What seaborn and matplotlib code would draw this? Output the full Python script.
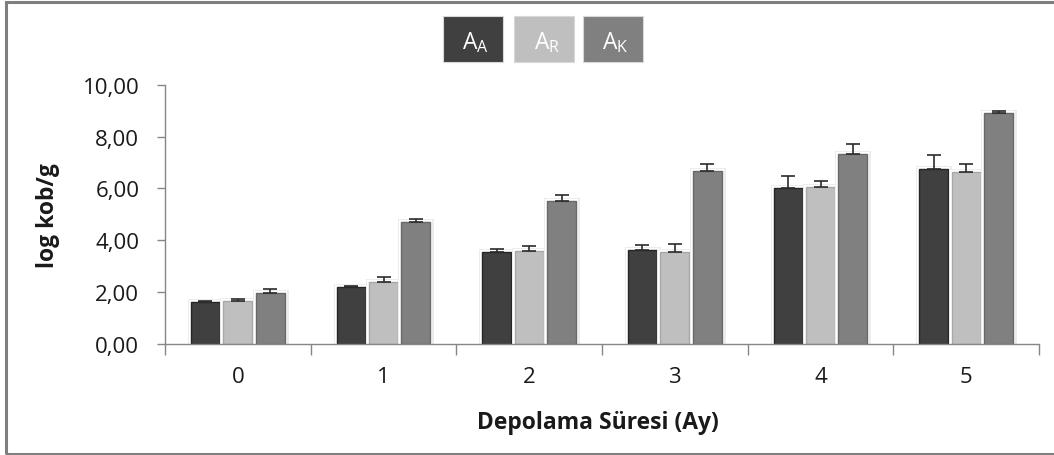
import numpy as np
import pandas as pd
import matplotlib
matplotlib.use("Agg")
import matplotlib.pyplot as plt
import matplotlib.patheffects as pe
from matplotlib.patches import Rectangle
from matplotlib.ticker import FixedLocator, FuncFormatter
import seaborn as sns

# Storage time (months) and mean log counts for each group
months = ["0", "1", "2", "3", "4", "5"]
groups = ["A_A", "A_R", "A_K"]
group_labels = [r"A$_A$", r"A$_R$", r"A$_K$"]
mean_AA = [1.61, 2.20, 3.54, 3.64, 6.00, 6.76]
mean_AR = [1.65, 2.38, 3.60, 3.54, 6.07, 6.63]
mean_AK = [1.96, 4.69, 5.50, 6.67, 7.33, 8.90]
sd_AA = [0.04, 0.05, 0.12, 0.17, 0.49, 0.51]
sd_AR = [0.08, 0.22, 0.17, 0.33, 0.23, 0.33]
sd_AK = [0.16, 0.13, 0.23, 0.26, 0.37, 0.09]

colors = ["#404040", "#bfbfbf", "#808080"]
edge_colors = ["#262626", "#a8a8a8", "#686868"]

means = [mean_AA, mean_AR, mean_AK]
sds = [sd_AA, sd_AR, sd_AK]
df = pd.DataFrame({
    "month": np.repeat([months], 3, axis=0).ravel(),
    "group": np.repeat(groups, len(months)),
    "value": np.concatenate(means),
})

sns.set_theme(style="white")
plt.rcParams["font.family"] = ["Open Sans", "DejaVu Sans"]
plt.rcParams["mathtext.default"] = "regular"

W, H = 1054, 456
fig = plt.figure(figsize=(W / 100, H / 100), dpi=100)
ax = fig.add_axes([165 / W, 1 - 345 / H, 874 / W, 259.3 / H])

sns.barplot(data=df, x="month", y="value", hue="group", order=months,
            hue_order=groups, palette=colors, width=0.666, gap=0.1,
            errorbar=None, legend=False, ax=ax, saturation=1)

halo = [pe.Stroke(linewidth=5, foreground="#ececec"),
        pe.Stroke(linewidth=3, foreground="white"),
        pe.Normal()]
for cont, ec, sd in zip(ax.containers, edge_colors, sds):
    xs, ys = [], []
    for p in cont.patches:
        p.set_edgecolor(ec)
        p.set_linewidth(1.0)
        p.set_path_effects(halo)
        xs.append(p.get_x() + p.get_width() / 2)
        ys.append(p.get_height())
    ax.errorbar(xs, ys, yerr=[np.zeros(len(sd)), sd], fmt="none",
                ecolor="#2b2b2b", elinewidth=1.2, capsize=4.7,
                capthick=1.2, zorder=5)

ax.set_ylim(0, 10)
ax.set_xlim(-0.5, len(months) - 0.5)
ax.set_yticks(np.arange(0, 10.01, 2))
ax.yaxis.set_major_formatter(FuncFormatter(lambda v, _: f"{v:.2f}".replace(".", ",")))

spine_c = "#868686"
for s in ["top", "right"]:
    ax.spines[s].set_visible(False)
for s in ["left", "bottom"]:
    ax.spines[s].set_color(spine_c)
    ax.spines[s].set_linewidth(1.0)

ax.xaxis.set_minor_locator(FixedLocator(np.arange(-0.5, len(months), 1.0)))
ax.tick_params(axis="x", which="major", length=0, pad=16, labelsize=16,
               labelcolor="#1a1a1a")
ax.tick_params(axis="x", which="minor", length=8, width=1.0, color=spine_c,
               direction="out", bottom=True)
ax.tick_params(axis="y", which="major", length=5.5, width=1.0, color=spine_c,
               direction="out", left=True, pad=13, labelsize=16,
               labelcolor="#1a1a1a")

ax.set_xlabel("Depolama Süresi (Ay)", fontsize=16.5, fontweight="bold",
              color="#1a1a1a")
ax.set_ylabel("log kob/g", fontsize=16.5, fontweight="bold", color="#1a1a1a")
ax.xaxis.set_label_coords(0.495, -0.2545)
ax.yaxis.set_label_coords(-0.120, 0.5)

# Legend: filled boxes with the group name written inside
box_left = [442.7, 514.3, 582.7]
for x0, c, lab in zip(box_left, colors, group_labels):
    fig.add_artist(Rectangle((x0 / W, 1 - 63.3 / H), 60 / W, 46.6 / H,
                             transform=fig.transFigure, facecolor=c,
                             edgecolor="#d8d8d8", linewidth=0.8))
    fig.text((x0 + 33) / W, 1 - 43 / H, lab, color="white", fontsize=16.5,
             ha="center", va="center")

# Outer frame
fig.add_artist(Rectangle((6 / W, 1.5 / H), 1.0, 1 - 4.5 / H,
                         transform=fig.transFigure, fill=False,
                         edgecolor="#7f7f7f", linewidth=2.2))

fig.savefig("out.png", dpi=100)
